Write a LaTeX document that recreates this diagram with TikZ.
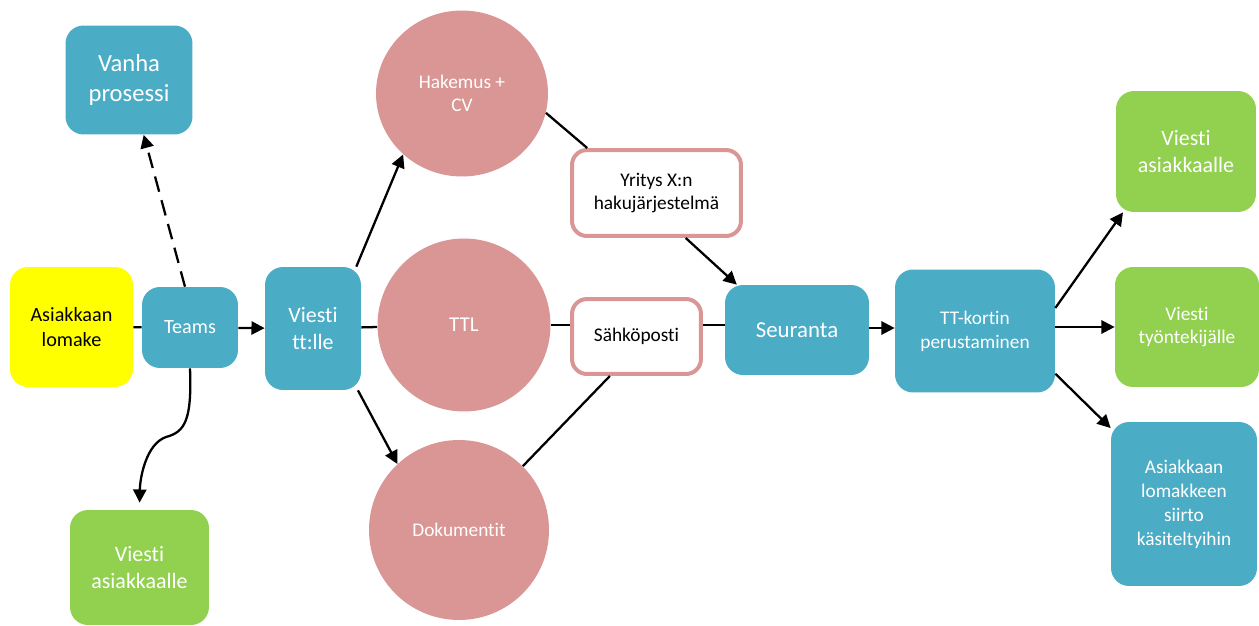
\documentclass[tikz,border=0pt]{standalone}
\usepackage{fontspec}
\setmainfont{Carlito}[Ligatures={NoCommon,NoContextual},RawFeature={-liga;-clig;-calt}]
\usetikzlibrary{arrows.meta,shapes.geometric}
\definecolor{cblue}{HTML}{4BACC6}
\definecolor{cgreen}{HTML}{92D050}
\definecolor{cpink}{HTML}{D99694}
\definecolor{cyellow}{HTML}{FFFF00}
\newcommand{\fs}[2]{\fontsize{#1}{#2}\selectfont}
\tikzset{
  box/.style={rectangle, rounded corners=0.36cm, align=center, inner sep=2pt},
  bluebox/.style={box, fill=cblue, text=white},
  greenbox/.style={box, fill=cgreen, text=white},
  yellowbox/.style={box, fill=cyellow, text=black},
  pinkframe/.style={box, fill=white, draw=cpink, line width=0.08cm, text=black, rounded corners=0.3cm},
  pinkcirc/.style={ellipse, fill=cpink, text=white, align=center, inner sep=0pt},
  conn/.style={line width=1.3pt, draw=black},
  arr/.style={conn, -{Triangle[length=7.5pt,width=7.5pt]}},
}
\begin{document}
\begin{tikzpicture}[x=0.02cm,y=-0.02cm]
\useasboundingbox[fill=white] (0,0) rectangle (1259,626);
% left column
\node[yellowbox, minimum width=2.46cm, minimum height=2.40cm, font=\fs{11.5}{14}] (lom) at (71.5,327) {Asiakkaan\\lomake};
\node[bluebox, minimum width=1.92cm, minimum height=1.62cm, font=\fs{11.5}{14}] (teams) at (190,327.5) {Teams};
\node[bluebox, minimum width=2.54cm, minimum height=2.18cm, font=\fs{14}{17}] (vanha) at (129,80) {Vanha\\prosessi};
\node[greenbox, minimum width=2.78cm, minimum height=2.30cm, font=\fs{12.5}{15}] (va1) at (139.5,567.5) {Viesti\\asiakkaalle};
\node[bluebox, minimum width=1.92cm, minimum height=2.46cm, font=\fs{12.5}{15}] (vtt) at (313,328.5) {Viesti\\tt:lle};
% circles
\node[pinkcirc, minimum width=3.44cm, minimum height=3.32cm, font=\fs{11}{13.2}] (hak) at (462,93.5) {Hakemus +\\CV};
\node[pinkcirc, minimum width=3.46cm, minimum height=3.46cm, font=\fs{12}{14}] (ttl) at (464,325) {TTL};
\node[pinkcirc, minimum width=3.6cm, minimum height=3.6cm, font=\fs{11}{13.2}] (dok) at (459,530) {Dokumentit};
% framed boxes
\node[pinkframe, minimum width=3.38cm, minimum height=1.72cm, font=\fs{11}{13.6}] (yr) at (656.5,193) {Yritys X:n\\hakujärjestelmä};
\node[pinkframe, minimum width=2.58cm, minimum height=1.50cm, font=\fs{11}{13.6}] (sah) at (636.5,336.5) {Sähköposti};
% right part
\node[bluebox, minimum width=2.88cm, minimum height=1.80cm, font=\fs{13}{15.5}] (seu) at (797,330) {Seuranta};
\node[bluebox, minimum width=3.20cm, minimum height=2.46cm, font=\fs{11}{13.6}] (tt) at (975,331) {TT-kortin\\perustaminen};
\node[greenbox, minimum width=2.80cm, minimum height=2.42cm, font=\fs{12.5}{15}] (va2) at (1186,151.5) {Viesti\\asiakkaalle};
\node[greenbox, minimum width=2.88cm, minimum height=2.40cm, font=\fs{11}{13.6}] (vt) at (1187,327) {Viesti\\työntekijälle};
\node[bluebox, minimum width=2.92cm, minimum height=3.28cm, font=\fs{11}{13.6}] (sii) at (1184,504) {Asiakkaan\\lomakkeen\\siirto\\käsiteltyihin};
% connectors
\draw[conn] (lom) -- (teams);
\draw[arr] (teams) -- (vtt);
\draw[arr, dashed, dash pattern=on 9pt off 5pt] (teams.97) -- (vanha.285);
\draw[arr, shorten >=0.14cm] (teams.south) .. controls (192,420) and (185,432) .. (166,437)
   .. controls (146,444) and (140,478) .. (va1.north);
\draw[arr] (vtt.55) -- (hak.226);
\draw[conn] (vtt) -- (ttl);
\draw[arr] (vtt.306) -- (dok.133);
\draw[conn] (hak.347) -- (yr.147);
\draw[arr] (yr.303) -- (seu.143);
\draw[conn] (ttl) -- (sah.west |- ttl);
\draw[conn] (sah.east |- ttl) -- (seu.west |- ttl);
\draw[conn] (dok.45) -- (sah.236);
\draw[arr] (seu.east |- 0,328) -- (tt.west |- 0,328);
\draw[arr] (tt.16) -- (va2.224);
\draw[arr] (tt.east |- vt) -- (vt);
\draw[arr] (tt.332) -- (sii.134);
\end{tikzpicture}
\end{document}
